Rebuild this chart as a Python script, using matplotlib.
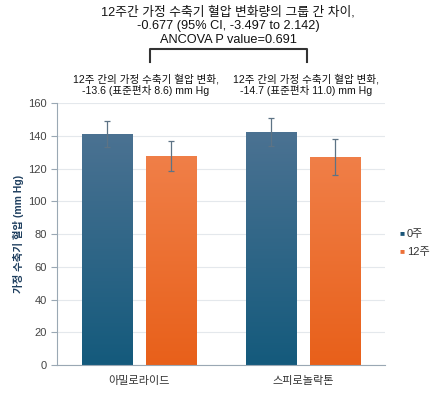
import matplotlib.pyplot as plt
import matplotlib.colors as mcolors
import numpy as np

plt.rcParams['font.family'] = ['Liberation Sans', 'Noto Sans CJK KR', 'DejaVu Sans']

groups = ["아밀로라이드", "스피로놀락톤"]
series = ["0주", "12주"]
week0 = [141.2, 142.1]
week0_err = [8.0, 8.5]
week12 = [127.6, 127.2]
week12_err = [9.0, 11.0]

title_lines = ["12주간 가정 수축기 혈압 변화량의 그룹 간 차이,",
               "-0.677 (95% CI, -3.497 to 2.142)",
               "ANCOVA P value=0.691"]
notes = [["12주 간의 가정 수축기 혈압 변화,", "-13.6 (표준편차 8.6) mm Hg"],
         ["12주 간의 가정 수축기 혈압 변화,", "-14.7 (표준편차 11.0) mm Hg"]]

W, H = 439, 395
fig = plt.figure(figsize=(W / 100, H / 100), dpi=100)
ax = fig.add_axes([0.130, 0.076, 0.747, 0.663])

x = np.arange(len(groups))
w = 0.31
off = 0.195

blue_grad = ["#145a7c", "#4b7292"]    # bottom, top
orange_grad = ["#e8601a", "#f07f48"]


def grad_bars(xs, vals, cols):
    bars = ax.bar(xs, vals, w, color=cols[0], zorder=2)
    cmap = mcolors.LinearSegmentedColormap.from_list("g", cols)
    for b in bars:
        x0, y0 = b.get_x(), b.get_y()
        im = ax.imshow(np.linspace(0, 1, 256).reshape(-1, 1), cmap=cmap,
                       extent=[x0, x0 + b.get_width(), y0, y0 + b.get_height()],
                       origin="lower", aspect="auto", zorder=2.1)
        im.set_clip_path(b)
    return bars


grad_bars(x - off, week0, blue_grad)
grad_bars(x + off, week12, orange_grad)
ax.errorbar(x - off, week0, yerr=week0_err, fmt="none", ecolor="#5d7385",
            elinewidth=0.9, capsize=2, capthick=0.9, zorder=3)
ax.errorbar(x + off, week12, yerr=week12_err, fmt="none", ecolor="#5d7385",
            elinewidth=0.9, capsize=2, capthick=0.9, zorder=3)

ax.set_xlim(-0.5, 1.5)
ax.set_ylim(0, 160)
ax.set_yticks(range(0, 161, 20))
ax.set_xticks(x)
ax.set_xticklabels(groups, fontsize=8, color="#333333")
ax.tick_params(axis="x", length=0, pad=8)
ax.tick_params(axis="y", labelsize=8, labelcolor="#444444", color="#9aa8b4", length=4)
ax.grid(axis="y", color="#e4e8ec", linewidth=0.8, zorder=0)
for s in ["top", "right"]:
    ax.spines[s].set_visible(False)
for s in ["left", "bottom"]:
    ax.spines[s].set_color("#9aa8b4")
ax.set_ylabel("가정 수축기 혈압 (mm Hg)", fontsize=7.5, fontweight="bold", color="#1f3f5f", labelpad=3)


def px(xp, yp):
    return xp / W, 1 - yp / H


# legend
for yy, lab, col in [(234, series[0], "#1a5578"), (252, series[1], "#ec7038")]:
    fig.text(*px(400, yy), "■", color=col, fontsize=6, va="center", ha="left")
    fig.text(*px(407, yy), lab, color="#333333", fontsize=8, va="center", ha="left")

# titles and bracket
for yy, line in zip([12, 26.5, 40], title_lines):
    fig.text(*px(228, yy), line, ha="center", va="center", fontsize=9.2, color="#111111")
bx, by = zip(*[px(150, 62), px(150, 49), px(307, 49), px(307, 62)])
fig.lines.append(plt.Line2D(bx, by, transform=fig.transFigure, color="#333333", linewidth=1.5))
for cx, note in zip([146, 306], notes):
    for yy, line in zip([79, 90.5], note):
        fig.text(*px(cx, yy), line, ha="center", va="center", fontsize=7.6, color="#111111")

fig.savefig("out.png", dpi=100)
plt.close(fig)
